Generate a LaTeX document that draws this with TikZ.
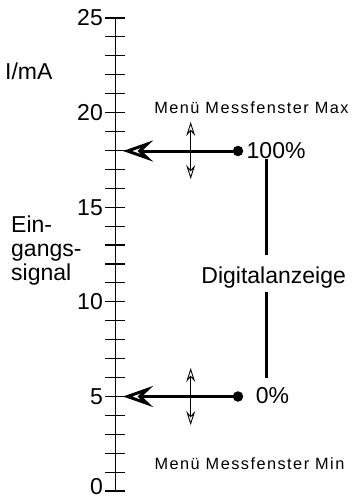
\documentclass[tikz,border=0pt]{standalone}
\usepackage{fontspec}
\setmainfont{Liberation Sans}
\newfontfamily\smallfont[LetterSpace=9]{Liberation Sans}
\usetikzlibrary{arrows.meta}
\tikzset{
  axisline/.style={line width=0.9pt},
  tickline/.style={line width=1.1pt},
  bigtext/.style={inner sep=0pt, font=\fontsize{23}{24}\selectfont},
  smalltext/.style={inner sep=0pt, font=\smallfont\fontsize{16.3}{18}\selectfont},
  dot/.style={circle, fill=black, inner sep=0pt, minimum size=10.5pt},
  bigarrow/.style={line width=3pt, -{Stealth[open, length=30pt, width=21pt, inset=11pt]}},
  smallarrow/.style={line width=0.9pt, {Stealth[open, length=14pt, width=9pt, inset=5pt]}-{Stealth[open, length=14pt, width=9pt, inset=5pt]}},
  barline/.style={line width=3pt},
}
\begin{document}
\begin{tikzpicture}[x=1pt, y=-1pt]
\useasboundingbox (0,0) rectangle (353,499);
% axis
\coordinate (atop) at (115.5,18);
\coordinate (abot) at (115.5,491);
\draw[axisline] (atop) -- (abot);
\foreach \i in {0,...,25} {
  \coordinate (tl\i) at (105,{491-18.92*\i});
  \coordinate (tr\i) at (125,{491-18.92*\i});
  \draw[tickline] (tl\i) -- (tr\i);
}
\foreach \i in {5,10,15,20,25} {
  \node[bigtext, anchor=east] (lab\i) at (103,{491-18.92*\i}) {\i};
}
\node[bigtext, anchor=east] (lab0) at (103,486.5) {0};
% axis titles
\node[bigtext, anchor=west] (unit) at (5,71) {I/mA};
\node[bigtext, anchor=north west, align=left] (signal) at (11,215.5) {Ein-\\gangs-\\signal};
% upper arrow (100 %)
\node[dot] (d1) at (238,151) {};
\coordinate (t1) at (123,151);
\draw[bigarrow] (d1.center) -- (t1);
\coordinate (v1a) at (190.7,122);
\coordinate (v1b) at (190.7,179);
\draw[smallarrow] (v1a) -- (v1b);
\node[bigtext, anchor=west] (p100) at (246.5,151) {100\%};
\node[smalltext] (mmax) at (251.5,108) {Menü Messfenster Max};
% lower arrow (0 %)
\node[dot] (d2) at (238,396.5) {};
\coordinate (t2) at (123,396.5);
\draw[bigarrow] (d2.center) -- (t2);
\coordinate (v2a) at (190.7,368);
\coordinate (v2b) at (190.7,425);
\draw[smallarrow] (v2a) -- (v2b);
\node[bigtext, anchor=west] (p0) at (255.7,396) {0\%};
\node[smalltext] (mmin) at (249.5,464) {Menü Messfenster Min};
% digital display
\node[bigtext, anchor=base west] (dig) at (201.2,283.3) {Digitalanzeige};
\coordinate (b1) at (266.7,159);
\coordinate (b2) at (266.7,255);
\coordinate (b3) at (266.7,291.7);
\coordinate (b4) at (266.7,378);
\draw[barline] (b1) -- (b2);
\draw[barline] (b3) -- (b4);
\end{tikzpicture}
\end{document}
